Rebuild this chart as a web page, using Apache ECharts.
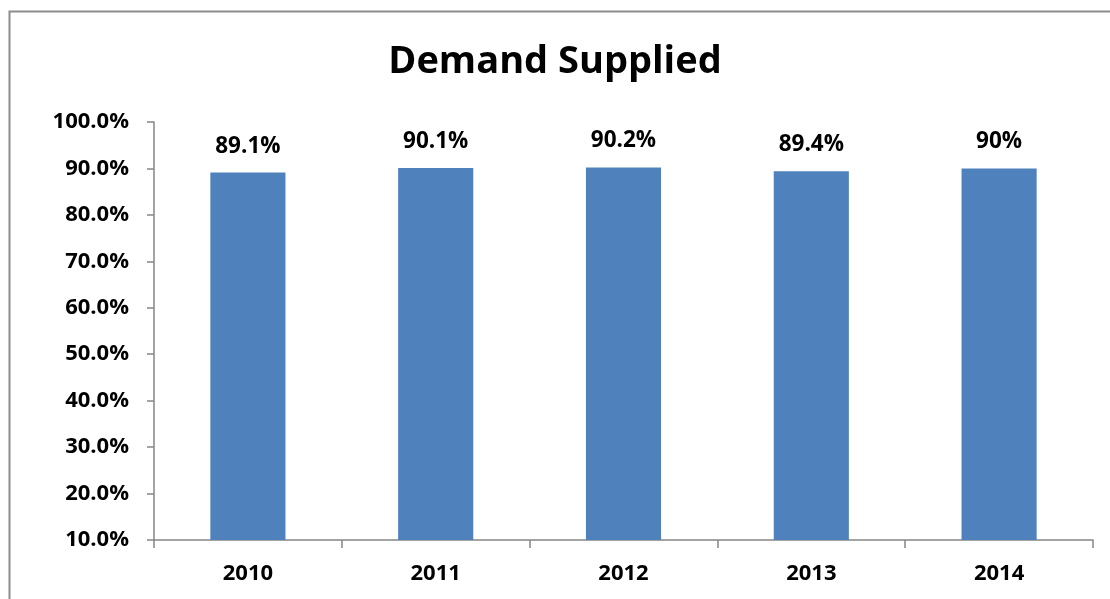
<!DOCTYPE html>
<html>
<head>
<meta charset="utf-8">
<style>
  html, body { margin: 0; padding: 0; background: #fff; }
  #chart { width: 1110px; height: 599px; }
</style>
<script src="https://cdn.jsdelivr.net/npm/echarts@6/dist/echarts.min.js"></script>
</head>
<body>
<div id="chart"></div>
<script>
// Share of demand supplied per year (percent)
const years = ['2010', '2011', '2012', '2013', '2014'];
const supplied = [89.1, 90.1, 90.2, 89.4, 90];
const yTicks = { min: 10, max: 100, step: 10 };

const FONT = '"Open Sans", "Noto Sans", sans-serif';
const AXIS_GREY = '#868686';

const chart = echarts.init(document.getElementById('chart'), null, { renderer: 'canvas' });

chart.setOption({
  backgroundColor: '#ffffff',
  animation: false,
  title: {
    text: 'Demand Supplied',
    left: 'center',
    top: 38,
    textStyle: { fontFamily: FONT, fontSize: 38, fontWeight: 'bold', color: '#000' }
  },
  graphic: [{
    type: 'rect',
    left: 7, top: 9,
    shape: { width: 1200, height: 700 },
    style: { fill: 'none', stroke: '#8c8c8c', lineWidth: 2 },
    silent: true
  }],
  grid: { left: 154, top: 122, right: 17, bottom: 59, containLabel: false },
  xAxis: {
    type: 'category',
    data: years,
    boundaryGap: true,
    axisLine: { show: true, lineStyle: { color: AXIS_GREY, width: 1.5 } },
    axisTick: { show: true, length: 8, alignWithLabel: false, lineStyle: { color: AXIS_GREY, width: 1.5 } },
    axisLabel: { margin: 23, fontFamily: FONT, fontSize: 22, fontWeight: 'bold', color: '#000' }
  },
  yAxis: {
    type: 'value',
    min: yTicks.min,
    max: yTicks.max,
    interval: yTicks.step,
    splitLine: { show: false },
    axisLine: { show: true, lineStyle: { color: AXIS_GREY, width: 1.5 } },
    axisTick: { show: true, length: 7, lineStyle: { color: AXIS_GREY, width: 1.5 } },
    axisLabel: {
      margin: 25,
      fontFamily: FONT, fontSize: 22, fontWeight: 'bold', color: '#000',
      formatter: v => v.toFixed(1) + '%'
    }
  },
  series: [{
    type: 'bar',
    data: supplied,
    barWidth: '40%',
    itemStyle: { color: '#4F81BD' },
    label: {
      show: true,
      position: 'top',
      distance: 15,
      fontFamily: FONT, fontSize: 22.5, fontWeight: 'bold', color: '#000',
      formatter: p => p.value + '%'
    }
  }]
});
</script>
</body>
</html>
